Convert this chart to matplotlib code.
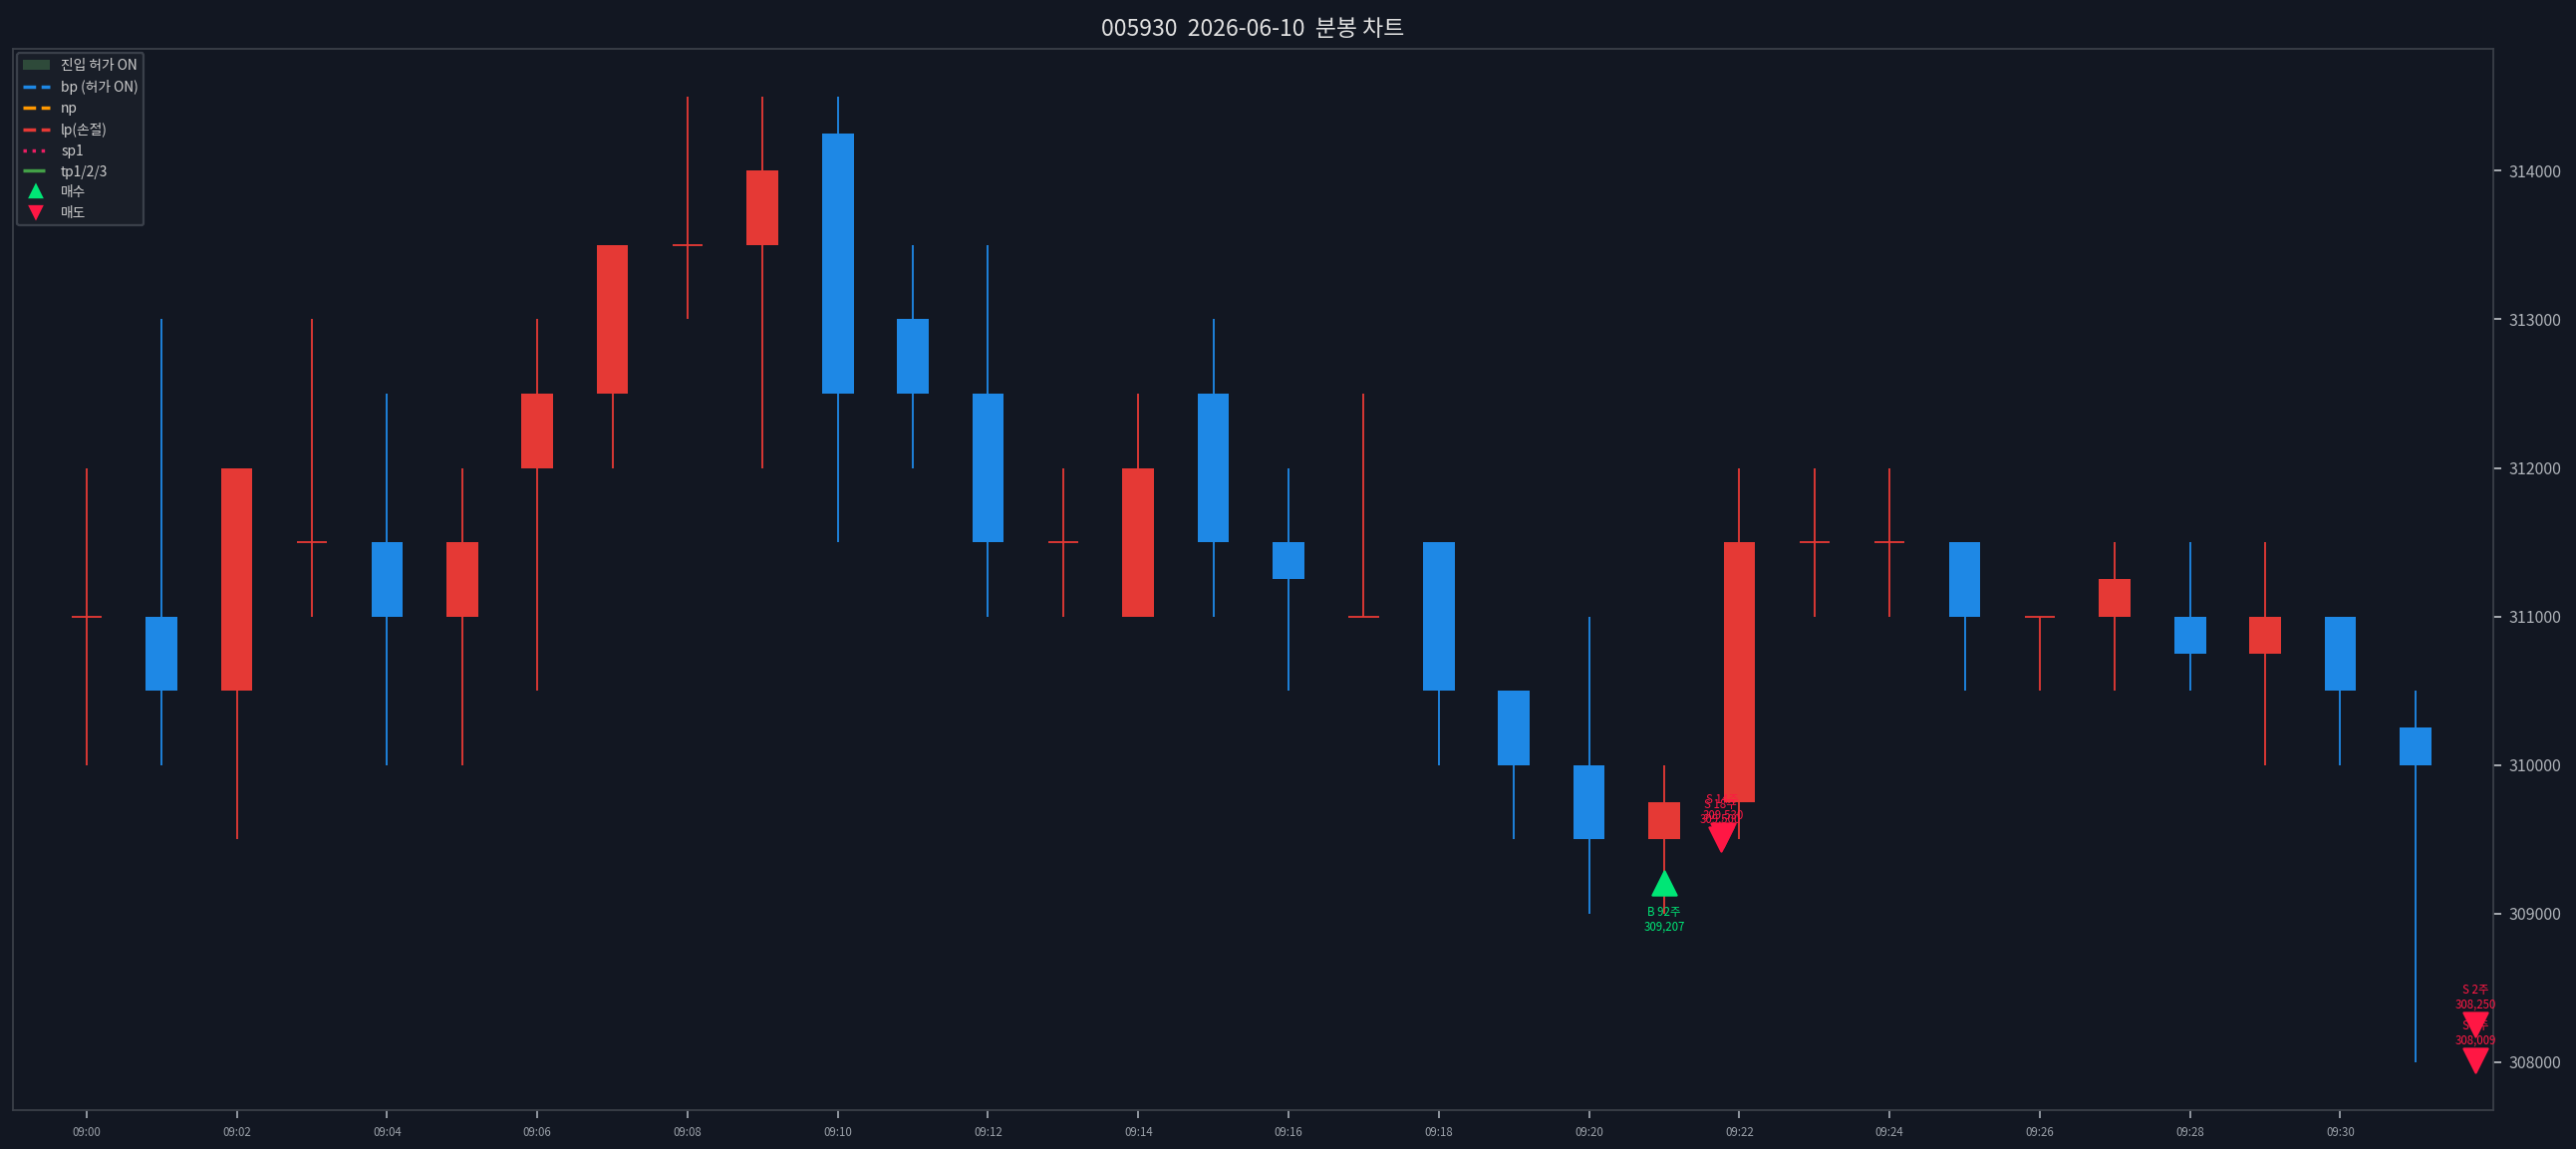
import matplotlib
matplotlib.use("Agg")
import matplotlib.pyplot as plt
from matplotlib.patches import Patch
from matplotlib.lines import Line2D

plt.rcParams['font.family'] = ['Noto Sans CJK KR', 'DejaVu Sans']

minutes = list(range(32))
opens = [311000, 311000, 310500, 311500, 311500, 311000, 312000, 312500, 313500, 313500,
         314250, 313000, 312500, 311500, 311000, 312500, 311500, 311000, 311500, 310500,
         310000, 309500, 309750, 311500, 311500, 311500, 311000, 311000, 311000, 310750,
         311000, 310250]
closes = [311000, 310500, 312000, 311500, 311000, 311500, 312500, 313500, 313500, 314000,
          312500, 312500, 311500, 311500, 312000, 311500, 311250, 311000, 310500, 310000,
          309500, 309750, 311500, 311500, 311500, 311000, 311000, 311250, 310750, 311000,
          310500, 310000]
highs = [312000, 313000, 312000, 313000, 312500, 312000, 313000, 313500, 314500, 314500,
         314500, 313500, 313500, 312000, 312500, 313000, 312000, 312500, 311500, 310500,
         311000, 310000, 312000, 312000, 312000, 311500, 311000, 311500, 311500, 311500,
         311000, 310500]
lows = [310000, 310000, 309500, 311000, 310000, 310000, 310500, 312000, 313000, 312000,
        311500, 312000, 311000, 311000, 311000, 311000, 310500, 311000, 310000, 309500,
        309000, 309000, 309500, 311000, 311000, 310500, 310500, 310500, 310500, 310000,
        310000, 308000]

buy_x = [21.0]
buy_y = [309207]
buy_labels = ["B 92주\n309,207"]
sell_x = [21.75, 21.78, 31.8, 31.8]
sell_y = [309500, 309530, 308250, 308009]
sell_labels = ["S 18주\n309,500", "S 14주\n309,530", "S 2주\n308,250", "S 1주\n308,009"]

BG = '#121722'
UP = '#e53935'
DOWN = '#1e88e5'

fig = plt.figure(figsize=(15.67, 6.99), dpi=165, facecolor=BG)
ax = fig.add_axes([0.005, 0.034, 0.9625, 0.923], facecolor=BG)

for m, o, c, h, l in zip(minutes, opens, closes, highs, lows):
    col = UP if c >= o else DOWN
    ax.vlines(m, l, h, color=col, linewidth=0.8)
    if o == c:
        ax.hlines(o, m - 0.2, m + 0.2, color=col, linewidth=0.8)
    else:
        ax.bar(m, abs(c - o), bottom=min(o, c), width=0.42, color=col, linewidth=0)

ax.scatter(buy_x, buy_y, marker='^', s=110, color='#00e676', zorder=5)
for x, y, t in zip(buy_x, buy_y, buy_labels):
    ax.annotate(t, (x, y), xytext=(0, -10), textcoords='offset points', ha='center', va='top',
                fontsize=5, color='#00e676')
ax.scatter(sell_x, sell_y, marker='v', s=110, color='#ff1744', zorder=5)
for x, y, t in zip(sell_x, sell_y, sell_labels):
    ax.annotate(t, (x, y), xytext=(0, 6), textcoords='offset points', ha='center', va='bottom',
                fontsize=5, color='#ff1744')

ax.set_xlim(-0.98, 32.03)
ax.set_ylim(307677, 314820)
ax.set_xticks(minutes[::2])
ax.set_xticklabels([f"09:{m:02d}" for m in minutes[::2]])
ax.yaxis.tick_right()
ax.tick_params(axis='x', colors='#9aa0a8', labelsize=5)
ax.tick_params(axis='y', colors='#b0b4ba', labelsize=7)
for s in ax.spines.values():
    s.set_color('#3a3f48')
    s.set_linewidth(0.8)

ax.set_title("005930  2026-06-10  분봉 차트", color='#e0e0e0', fontsize=10, pad=6)

handles = [
    Patch(facecolor='#2e4a3a', edgecolor='none', label='진입 허가 ON'),
    Line2D([], [], color='#1e88e5', ls='--', label='bp (허가 ON)'),
    Line2D([], [], color='#ff9800', ls='--', label='np'),
    Line2D([], [], color='#e53935', ls='--', label='lp(손절)'),
    Line2D([], [], color='#e91e63', ls=':', label='sp1'),
    Line2D([], [], color='#43a047', ls='-.', label='tp1/2/3'),
    Line2D([], [], color='#00e676', marker='^', ls='none', markersize=5, label='매수'),
    Line2D([], [], color='#ff1744', marker='v', ls='none', markersize=5, label='매도'),
]
leg = ax.legend(handles=handles, loc='upper left', fontsize=6, facecolor='#1b202a',
                edgecolor='#444a54', labelcolor='#d0d0d0', borderaxespad=0.3)

fig.savefig("out.png", dpi=165, facecolor=BG)
